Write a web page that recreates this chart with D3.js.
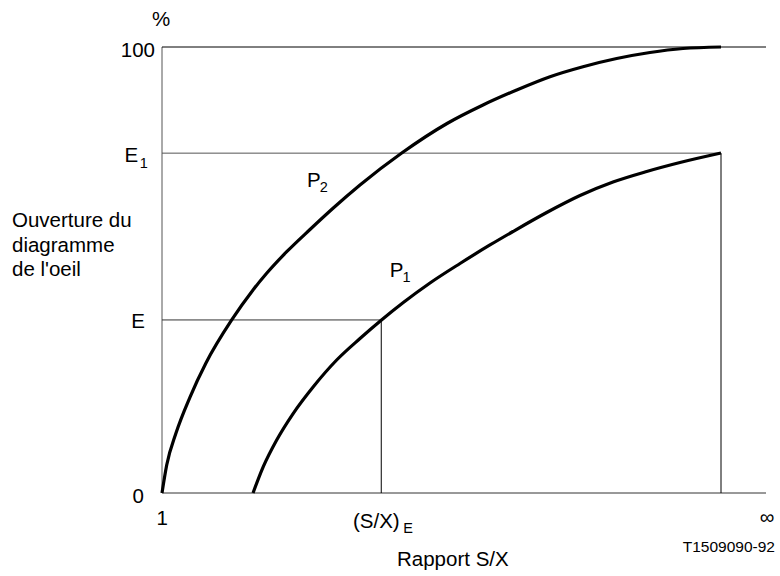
<!DOCTYPE html>
<html>
<head>
<meta charset="utf-8">
<script src="https://cdn.jsdelivr.net/npm/d3@7"></script>
<style>
  html, body { margin: 0; padding: 0; background: #fff; }
  svg { display: block; }
  text { font-family: "Liberation Sans", Arial, sans-serif; fill: #000; }
</style>
</head>
<body>
<svg id="chart" width="780" height="576"></svg>
<script>
// ---- data (x: S/X axis, arbitrary 0..100 units from "1" to "∞"; y: eye opening %) ----
const levelE = 38.8;      // "E"
const levelE1 = 76.2;     // "E1"
const sxE = 36.3;         // "(S/X)E"
const xEnd = 92.55;       // end of curves
const yTickValues = [0, levelE, levelE1, 100];
const yTickLabels = ["0", "E", "E|1", "100"];
const xTickValues = [0, sxE, 100];
const xTickLabels = ["1", "(S/X)|E", "∞"];

const p2X = [0, 0.78, 2.32, 4.64, 7.28, 11.54, 15.07, 17.33, 20.65, 24.50, 28.36, 32.78, 39.69, 47.19, 53.15, 58.72, 64.24, 69.70, 75.28, 80.79, 86.26, 92.55];
const p2Y = [0, 6.28, 13.45, 21.52, 29.15, 38.79, 45.52, 49.26, 54.10, 59.08, 63.90, 69.06, 76.23, 82.85, 87.00, 90.36, 93.34, 95.58, 97.42, 98.77, 99.66, 100];
const p1X = [15.07, 16.77, 18.99, 21.74, 25.05, 28.92, 32.78, 36.34, 39.95, 44.37, 49.34, 54.30, 58.11, 63.69, 69.21, 74.67, 80.25, 85.76, 92.55];
const p1Y = [0, 5.90, 11.88, 17.87, 23.83, 29.82, 34.64, 38.79, 42.71, 47.09, 51.46, 55.61, 58.63, 62.89, 66.70, 69.73, 72.09, 74.10, 76.23];

const curveLabels = [
  { name: "P|2", x: 24.0, y: 68.6 },
  { name: "P|1", x: 37.7, y: 48.5 }
];

// ---- layout ----
const svg = d3.select("#chart");
const x = d3.scaleLinear().domain([0, 100]).range([162, 766]);
const y = d3.scaleLinear().domain([0, 100]).range([493, 47]);
const FS = 20.5;
const SUB = 14.5;

function addLabel(t, label, dx, dy) {
  const parts = label.split("|");
  t.append("tspan").text(parts[0]);
  if (parts[1]) {
    t.append("tspan").attr("font-size", SUB).attr("dx", dx).attr("dy", dy).text(parts[1]);
  }
  return t;
}

const lines = svg.append("g").attr("stroke", "#000").attr("stroke-width", 1).attr("fill", "none");
// axes
lines.append("line").attr("x1", x(0)).attr("x2", x(0)).attr("y1", y(0)).attr("y2", y(100)).attr("stroke", "#555");
lines.append("line").attr("x1", x(0)).attr("x2", x(100)).attr("y1", y(0)).attr("y2", y(0)).attr("stroke", "#333");
lines.append("line").attr("x1", x(0)).attr("x2", x(100)).attr("y1", y(100)).attr("y2", y(100));
// reference lines
lines.append("line").attr("x1", x(0)).attr("x2", x(xEnd)).attr("y1", y(levelE1)).attr("y2", y(levelE1)).attr("stroke", "#555");
lines.append("line").attr("x1", x(xEnd)).attr("x2", x(xEnd)).attr("y1", y(levelE1)).attr("y2", y(0));
lines.append("line").attr("x1", x(0)).attr("x2", x(sxE)).attr("y1", y(levelE)).attr("y2", y(levelE)).attr("stroke", "#333");
lines.append("line").attr("x1", x(sxE)).attr("x2", x(sxE)).attr("y1", y(levelE)).attr("y2", y(0));

// curves
const lineGen = d3.line().x(d => x(d[0])).y(d => y(d[1])).curve(d3.curveMonotoneX);
const series = [p2X.map((v, i) => [v, p2Y[i]]), p1X.map((v, i) => [v, p1Y[i]])];
svg.append("g").selectAll("path").data(series).join("path")
  .attr("d", lineGen)
  .attr("fill", "none").attr("stroke", "#000").attr("stroke-width", 3.2);

// y tick labels
const yLabelPos = [
  { x: 144, dy: 10, anchor: "end" },   // 0
  { x: 145, dy: 8, anchor: "end" },    // E
  { x: 124.5, dy: 9, anchor: "start" },// E1
  { x: 155, dy: 10, anchor: "end" }    // 100
];
yTickValues.forEach((v, i) => {
  const p = yLabelPos[i];
  const t = svg.append("text")
    .attr("x", p.x).attr("y", y(v) + p.dy)
    .attr("text-anchor", p.anchor).attr("font-size", FS);
  addLabel(t, yTickLabels[i], 1.5, 6);
});

// x tick labels
const xLabelPos = [
  { dx: -5.5, y: 525, anchor: "start" },
  { dx: -(x(sxE) - 353), y: 528, anchor: "start" },
  { dx: 1, y: 524, anchor: "middle" }
];
xTickValues.forEach((v, i) => {
  const p = xLabelPos[i];
  const t = svg.append("text")
    .attr("x", x(v) + p.dx).attr("y", p.y)
    .attr("text-anchor", p.anchor).attr("font-size", FS);
  addLabel(t, xTickLabels[i], 3.5, 5);
});

// curve labels
curveLabels.forEach(c => {
  const t = svg.append("text").attr("x", x(c.x)).attr("y", y(c.y)).attr("font-size", FS);
  addLabel(t, c.name, -1, 5);
});

// axis titles
svg.append("text").attr("x", 152).attr("y", 26).attr("font-size", FS).text("%");
const ytitle = svg.append("text").attr("x", 12).attr("y", 227).attr("font-size", FS);
["Ouverture du", "diagramme", "de l'oeil"].forEach((s, i) => {
  ytitle.append("tspan").attr("x", 12).attr("dy", i === 0 ? 0 : 24.5).text(s);
});
svg.append("text").attr("x", 397).attr("y", 566).attr("font-size", FS).text("Rapport S/X");
svg.append("text").attr("x", 775).attr("y", 552).attr("text-anchor", "end").attr("font-size", 15.5).text("T1509090-92");
</script>
</body>
</html>
